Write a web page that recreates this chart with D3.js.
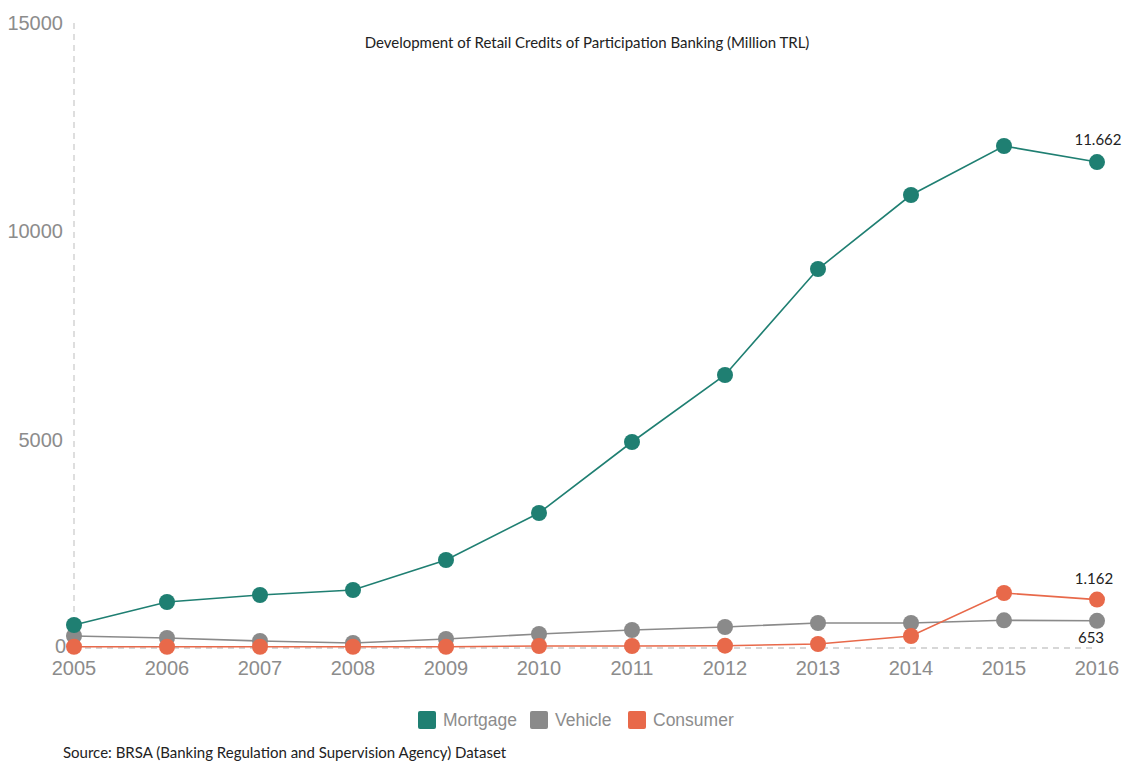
<!DOCTYPE html>
<html>
<head>
<meta charset="utf-8">
<script src="https://cdn.jsdelivr.net/npm/d3@7"></script>
<style>
  body { margin: 0; background: #fff; }
  svg text { font-family: "Liberation Sans", Arial, sans-serif; }
  .lato { font-family: Lato, "Open Sans", sans-serif !important; }
</style>
</head>
<body>
<div id="chart-wrap"></div>
<script>
const years = [2005, 2006, 2007, 2008, 2009, 2010, 2011, 2012, 2013, 2014, 2015, 2016];
const mortgage = [552, 1104, 1272, 1392, 2112, 3240, 4944, 6552, 9096, 10872, 12048, 11662];
const vehicle = [288, 240, 168, 120, 216, 336, 432, 504, 600, 600, 665, 653];
const consumer = [30, 30, 30, 30, 30, 48, 48, 55, 96, 288, 1320, 1162];
const seriesNames = ["Mortgage", "Vehicle", "Consumer"];
const seriesColors = ["#1f7f72", "#8a8a8a", "#e8694a"];
const yTicks = [0, 5000, 10000, 15000];

const width = 1123, height = 762;
const margin = {top: 23, right: 26, bottom: 114, left: 74};

const svg = d3.select("#chart-wrap").append("svg")
  .attr("width", width).attr("height", height);

const x = d3.scaleLinear().domain([2005, 2016]).range([margin.left, width - margin.right]);
const y = d3.scaleLinear().domain([0, 15000]).range([height - margin.bottom, margin.top]);

// dashed axis lines
svg.append("line")
  .attr("x1", x(2005)).attr("x2", x(2005))
  .attr("y1", y(15000)).attr("y2", y(0))
  .attr("stroke", "#c8c8c8").attr("stroke-width", 1.2).attr("stroke-dasharray", "6,5");
svg.append("line")
  .attr("x1", x(2005)).attr("x2", x(2016))
  .attr("y1", y(0)).attr("y2", y(0))
  .attr("stroke", "#b0b0b0").attr("stroke-width", 1.2).attr("stroke-dasharray", "6,5");

// y ticks
svg.append("g").selectAll("text").data(yTicks).join("text")
  .attr("x", d => d === 0 ? 66 : 63)
  .attr("y", d => y(d) - (d === 0 ? 2 : 0))
  .attr("dy", "0.35em")
  .attr("text-anchor", "end")
  .attr("fill", "#8c8c8c")
  .attr("font-size", 20)
  .text(d => d);

// x ticks
svg.append("g").selectAll("text").data(years).join("text")
  .attr("x", d => x(d))
  .attr("y", y(0) + 27)
  .attr("text-anchor", "middle")
  .attr("fill", "#8c8c8c")
  .attr("font-size", 20)
  .text(d => d);

const allSeries = [mortgage, vehicle, consumer];
const line = d3.line().x((d, i) => x(years[i])).y(d => y(d));

[1, 2, 0].forEach(s => {
  const g = svg.append("g");
  g.append("path").datum(allSeries[s])
    .attr("fill", "none").attr("stroke", seriesColors[s]).attr("stroke-width", 1.6)
    .attr("d", line);
  g.selectAll("circle").data(allSeries[s]).join("circle")
    .attr("cx", (d, i) => x(years[i])).attr("cy", d => y(d)).attr("r", 8)
    .attr("fill", seriesColors[s]);
});

// end labels
const fmt = v => v >= 1000 ? d3.format(",")(v).replace(/,/g, ".") : String(v);
const last = years.length - 1;
svg.append("text").attr("class", "lato")
  .attr("x", x(years[last]) + 1).attr("y", y(mortgage[last]) - 17)
  .attr("text-anchor", "middle").attr("font-size", 15).attr("fill", "#222")
  .text(fmt(mortgage[last]));
svg.append("text").attr("class", "lato")
  .attr("x", x(years[last]) - 3).attr("y", y(consumer[last]) - 16)
  .attr("text-anchor", "middle").attr("font-size", 15).attr("fill", "#222")
  .text(fmt(consumer[last]));
svg.append("text").attr("class", "lato")
  .attr("x", x(years[last]) - 6).attr("y", y(vehicle[last]) + 22)
  .attr("text-anchor", "middle").attr("font-size", 15).attr("fill", "#222")
  .text(fmt(vehicle[last]));

// title
svg.append("text").attr("class", "lato")
  .attr("x", 587).attr("y", 48)
  .attr("text-anchor", "middle").attr("font-size", 15).attr("fill", "#222")
  .text("Development of Retail Credits of Participation Banking (Million TRL)");

// legend
const legendX = [418, 530, 628];
const lg = svg.append("g");
seriesNames.forEach((n, i) => {
  lg.append("rect").attr("x", legendX[i]).attr("y", 711).attr("width", 18).attr("height", 18)
    .attr("rx", 2).attr("fill", seriesColors[i]);
  lg.append("text").attr("x", legendX[i] + 25).attr("y", 726)
    .attr("font-size", 17.5).attr("fill", "#8c8c8c").text(n);
});

// source
svg.append("text").attr("class", "lato")
  .attr("x", 63).attr("y", 758)
  .attr("font-size", 15).attr("fill", "#222")
  .text("Source: BRSA (Banking Regulation and Supervision Agency) Dataset");
</script>
</body>
</html>
